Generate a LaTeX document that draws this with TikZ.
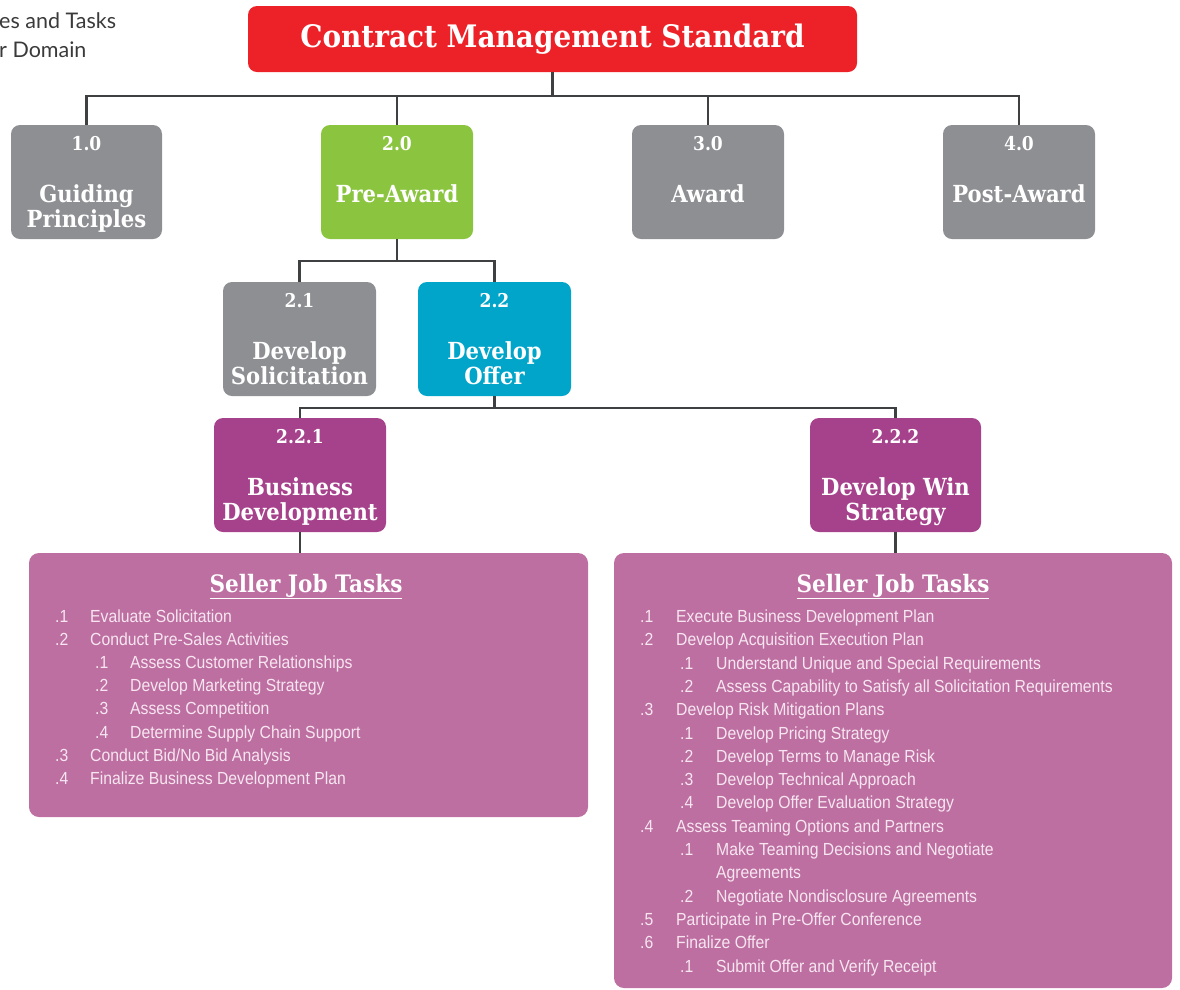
\documentclass[tikz,border=0pt]{standalone}
\usepackage{fontspec}
\newfontfamily\slabfont[FakeStretch=0.9]{DejaVu Serif}
\newfontfamily\condfont[FakeStretch=0.9]{Liberation Sans}
\newfontfamily\topfont{Lato}
\definecolor{cmred}{HTML}{ED2128}
\definecolor{cmgray}{HTML}{8D8F93}
\definecolor{cmgreen}{HTML}{8BC53F}
\definecolor{cmcyan}{HTML}{00A5C9}
\definecolor{cmpurple}{HTML}{A6428C}
\definecolor{cmtask}{HTML}{BD6FA2}
\definecolor{cmtasktext}{HTML}{F7E6F0}
\definecolor{cmline}{HTML}{3F4042}
\definecolor{cmtop}{HTML}{3A3A3A}
\tikzset{
  cmbox/.style={rounded corners=9pt, minimum height=114pt, inner sep=0pt, draw=none},
  numtxt/.style={text=white, font=\slabfont\bfseries\fontsize{19}{19}\selectfont, inner sep=0pt, anchor=base},
  ttltxt/.style={text=white, font=\slabfont\bfseries\fontsize{23.5}{25}\selectfont, inner sep=0pt, anchor=base},
  conn/.style={draw=cmline, line width=2.4pt},
  taskbox/.style={fill=cmtask, rounded corners=10pt, inner sep=0pt, draw=none},
  tasktitle/.style={text=white, font=\slabfont\bfseries\fontsize{24}{24}\selectfont, inner sep=0pt, anchor=base},
  tasktxt/.style={text=cmtasktext, font=\condfont\fontsize{17.5}{20}\selectfont, inner sep=0pt, anchor=base west},
  toptxt/.style={text=cmtop, font=\topfont\fontsize{21.5}{24}\selectfont, inner sep=0pt, anchor=base west}
}
% one-line box
\newcommand{\cmboxA}[7]{%
  \node[cmbox, fill=#5, minimum width=#4] (#1) at (#2,#3+57) {};
  \node[numtxt] (#1n) at (#2,#3+25) {#6};
  \node[ttltxt] (#1a) at (#2,#3+77) {#7};}
% two-line box
\newcommand{\cmboxB}[8]{%
  \node[cmbox, fill=#5, minimum width=#4] (#1) at (#2,#3+57) {};
  \node[numtxt] (#1n) at (#2,#3+25) {#6};
  \node[ttltxt] (#1a) at (#2,#3+77) {#7};
  \node[ttltxt] (#1b) at (#2,#3+102) {#8};}
\newcommand{\tline}[6]{%
  \node[tasktxt] (#1n) at (#2,#4) {#5};
  \node[tasktxt] (#1t) at (#3,#4) {#6};}
\begin{document}
\begin{tikzpicture}[x=1pt,y=-1pt]
\useasboundingbox (0,0) rectangle (1180,989);
% top-left fragment of a caption
\node[toptxt] (cap1) at (-1,28) {es and Tasks};
\node[toptxt] (cap2) at (-1,57) {r Domain};
% title
\node[fill=cmred, rounded corners=9pt, minimum width=609pt, minimum height=66pt, inner sep=0pt,
      text=white, font=\slabfont\bfseries\fontsize{31}{31}\selectfont] (title) at (552.5,39) {Contract Management Standard};
% level 1
\cmboxB{b1}{86.5}{125}{151pt}{cmgray}{1.0}{Guiding}{Principles}
\cmboxA{b2}{397}{125}{152pt}{cmgreen}{2.0}{Pre-Award}
\cmboxA{b3}{708}{125}{152pt}{cmgray}{3.0}{Award}
\cmboxA{b4}{1019}{125}{152pt}{cmgray}{4.0}{Post-Award}
% level 2
\cmboxB{b21}{299.5}{282}{153pt}{cmgray}{2.1}{Develop}{Solicitation}
\cmboxB{b22}{494.5}{282}{153pt}{cmcyan}{2.2}{Develop}{Offer}
% level 3
\cmboxB{b221}{300}{418}{172pt}{cmpurple}{2.2.1}{Business}{Development}
\cmboxB{b222}{895.5}{418}{171pt}{cmpurple}{2.2.2}{Develop Win}{Strategy}
% task boxes
\node[taskbox, minimum width=559pt, minimum height=264pt] (tl) at (308.5,685) {};
\node[taskbox, minimum width=558pt, minimum height=435pt] (tr) at (893,770.5) {};
% connectors
\draw[conn] (title.south) -- ++(0,24) coordinate (j0);
\draw[conn] (j0) -| (b1.north);
\draw[conn] (j0) -| (b2.north);
\draw[conn] (j0) -| (b3.north);
\draw[conn] (j0) -| (b4.north);
\draw[conn] (b2.south) -- ++(0,22) coordinate (j1);
\draw[conn] (j1) -| (b21.north);
\draw[conn] (j1) -| (b22.north);
\draw[conn] (b22.south) -- ++(0,12) coordinate (j2);
\draw[conn] (j2) -| (b221.north);
\draw[conn] (j2) -| (b222.north);
\draw[conn] (b221.south) -- (b221.south |- tl.north);
\draw[conn] (b222.south) -- (b222.south |- tr.north);
% left task list
\node[tasktitle] (tlh) at (306,592) {\underline{Seller Job Tasks}};
\tline{la}{55}{90}{622}{.1}{Evaluate Solicitation}
\tline{lb}{55}{90}{645.2}{.2}{Conduct Pre-Sales Activities}
\tline{lc}{95}{130}{668.4}{.1}{Assess Customer Relationships}
\tline{ld}{95}{130}{691.6}{.2}{Develop Marketing Strategy}
\tline{le}{95}{130}{714.8}{.3}{Assess Competition}
\tline{lf}{95}{130}{738}{.4}{Determine Supply Chain Support}
\tline{lg}{55}{90}{761.2}{.3}{Conduct Bid/No Bid Analysis}
\tline{lh}{55}{90}{784.4}{.4}{Finalize Business Development Plan}
% right task list
\node[tasktitle] (trh) at (893,592) {\underline{Seller Job Tasks}};
\tline{ra}{640}{676}{622.5}{.1}{Execute Business Development Plan}
\tline{rb}{640}{676}{645.8}{.2}{Develop Acquisition Execution Plan}
\tline{rc}{680}{716}{669.1}{.1}{Understand Unique and Special Requirements}
\tline{rd}{680}{716}{692.4}{.2}{Assess Capability to Satisfy all Solicitation Requirements}
\tline{re}{640}{676}{715.7}{.3}{Develop Risk Mitigation Plans}
\tline{rf}{680}{716}{739}{.1}{Develop Pricing Strategy}
\tline{rg}{680}{716}{762.3}{.2}{Develop Terms to Manage Risk}
\tline{rh}{680}{716}{785.6}{.3}{Develop Technical Approach}
\tline{ri}{680}{716}{808.9}{.4}{Develop Offer Evaluation Strategy}
\tline{rj}{640}{676}{832.2}{.4}{Assess Teaming Options and Partners}
\tline{rk}{680}{716}{855.5}{.1}{Make Teaming Decisions and Negotiate}
\node[tasktxt] (rlt) at (716,878.8) {Agreements};
\tline{rm}{680}{716}{902.1}{.2}{Negotiate Nondisclosure Agreements}
\tline{rn}{640}{676}{925.4}{.5}{Participate in Pre-Offer Conference}
\tline{ro}{640}{676}{948.7}{.6}{Finalize Offer}
\tline{rp}{680}{716}{972}{.1}{Submit Offer and Verify Receipt}
\end{tikzpicture}
\end{document}
